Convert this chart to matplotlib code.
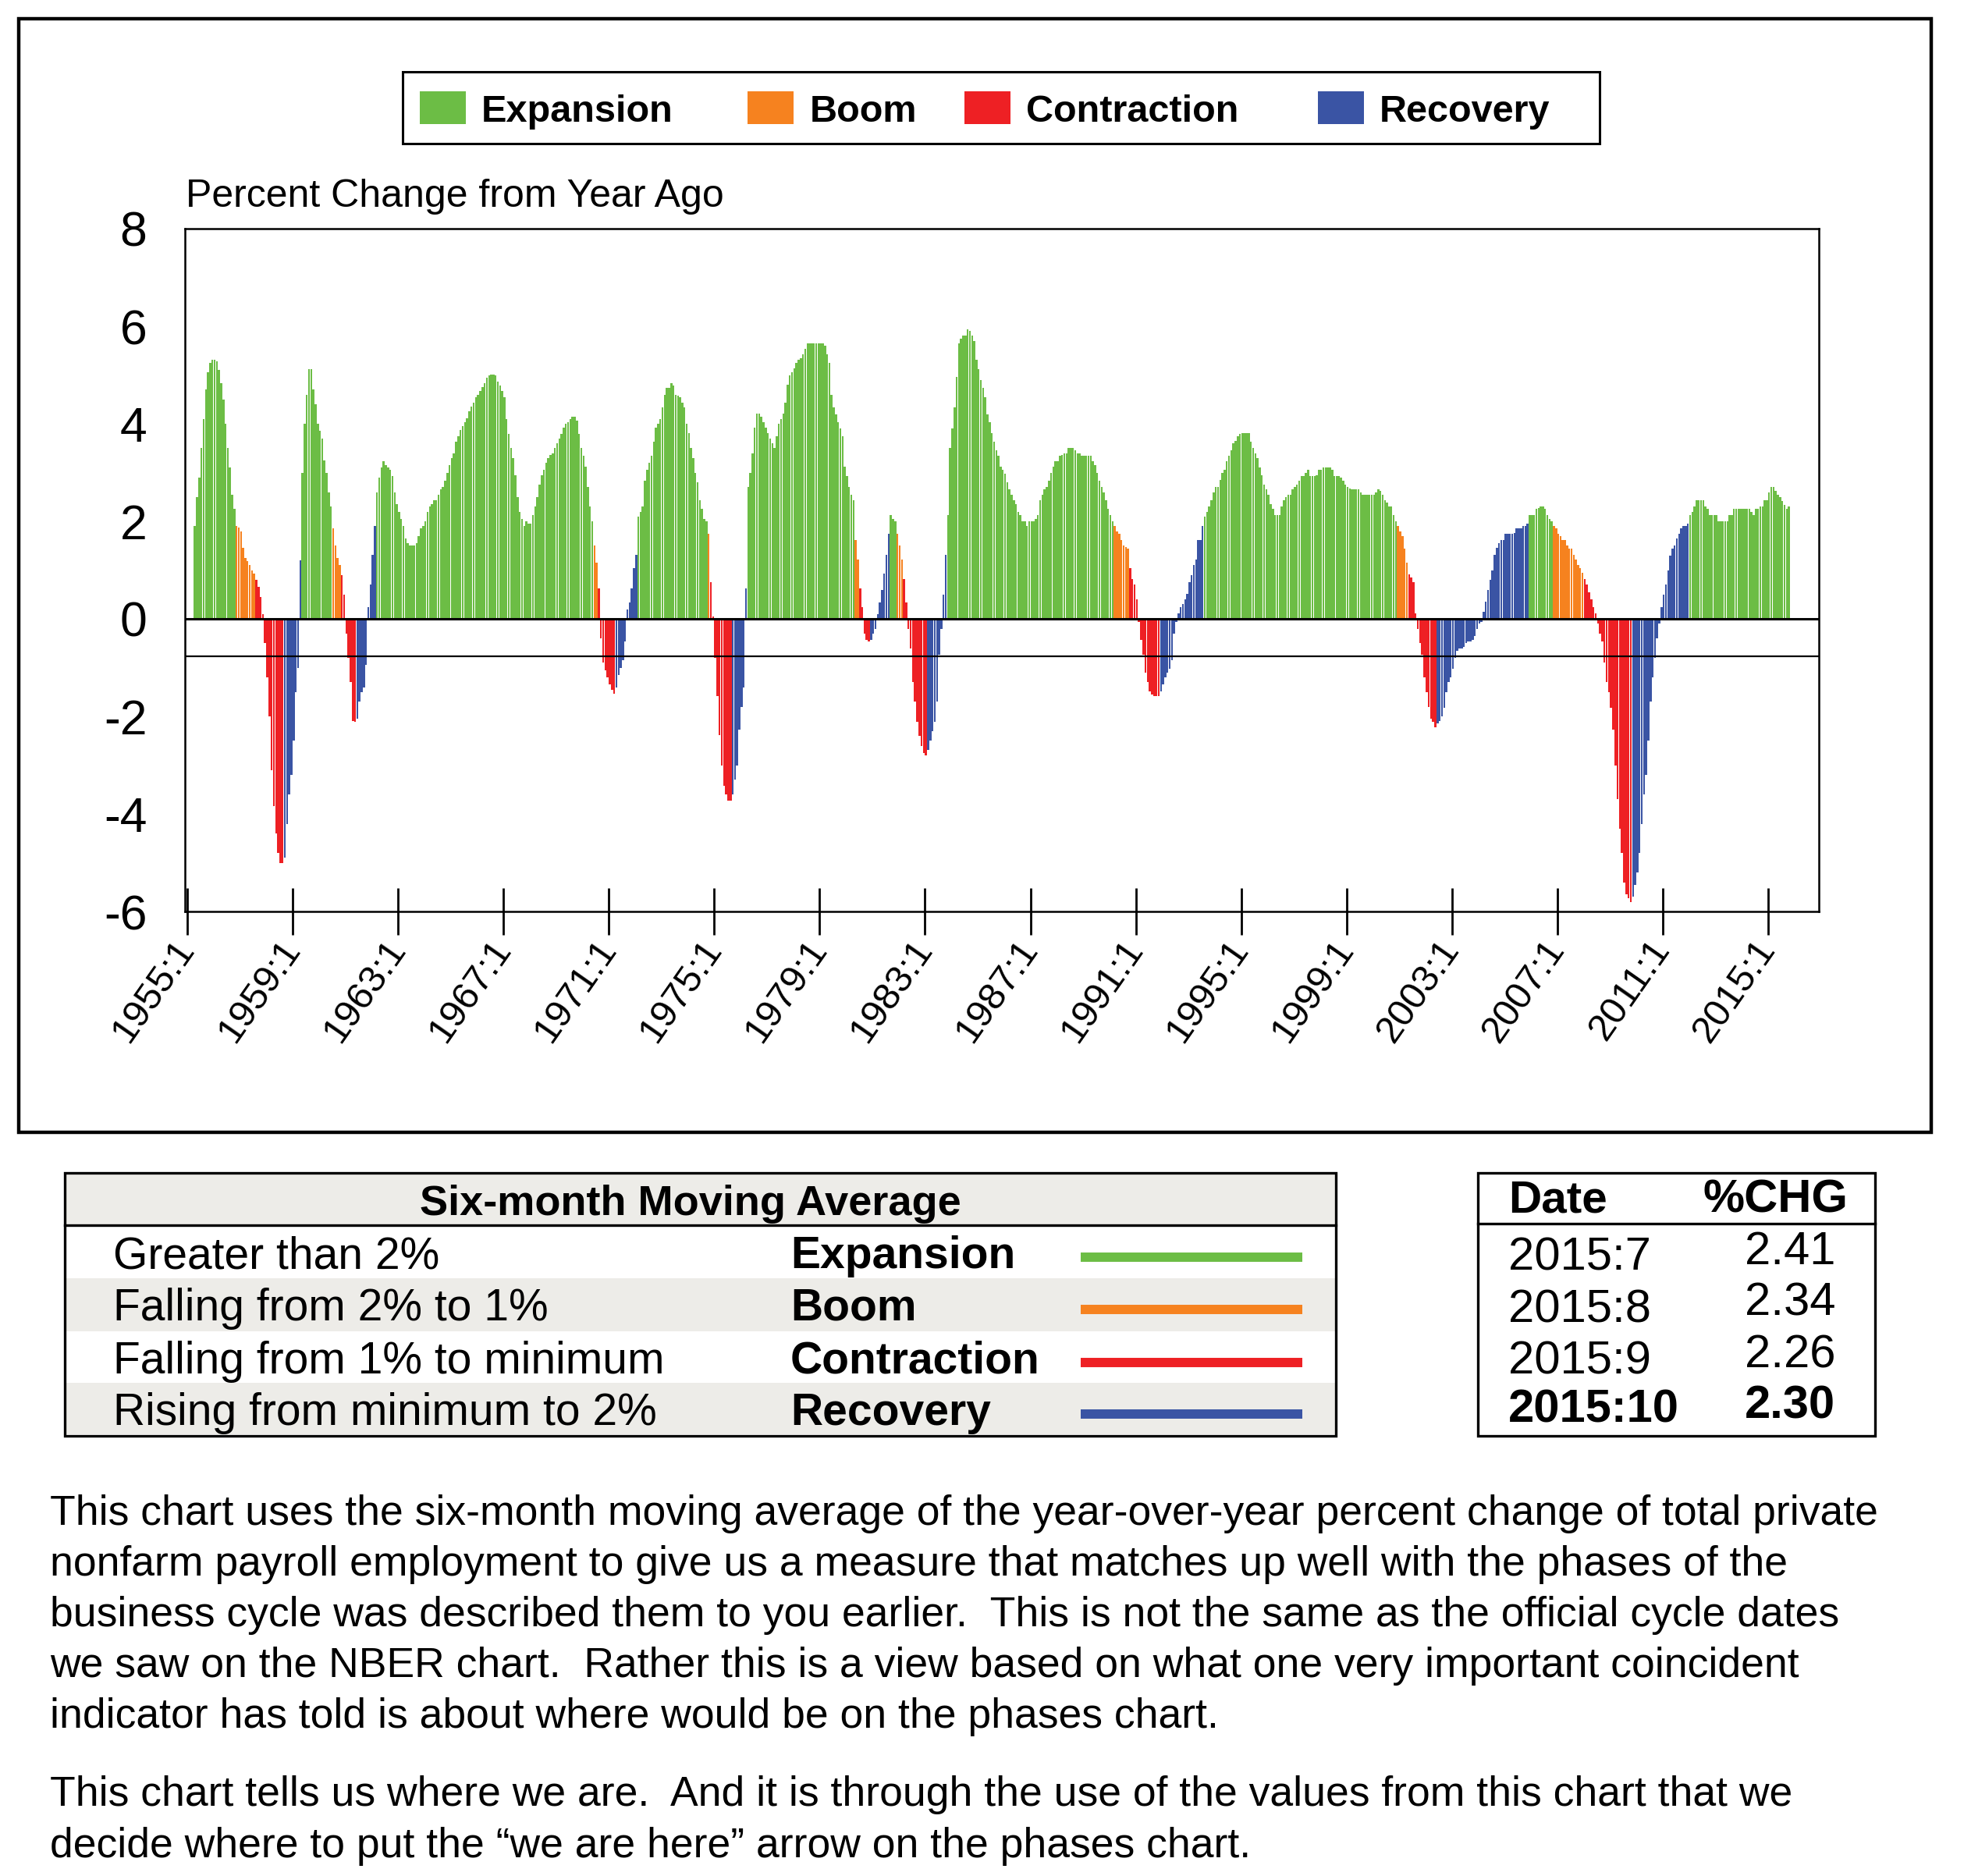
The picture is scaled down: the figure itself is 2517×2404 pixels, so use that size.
import matplotlib
matplotlib.use("Agg")
import matplotlib.pyplot as plt
from matplotlib.patches import Rectangle
from matplotlib.lines import Line2D
import numpy as np

plt.rcParams['font.family'] = ['Liberation Sans', 'DejaVu Sans']

# Six-month moving average of the y/y % change of private nonfarm payrolls.
# Monthly, first value is 1955:4, last is 2015:10.
first_month = 3  # months after 1955:1

pct_1955_59 = [
    1.9, 2.5, 2.9, 3.5, 4.1, 4.7, 5.05, 5.25, 5.31,                             # 1955 (Apr-Dec)
    5.31, 5.28, 5.1, 4.84, 4.5, 4.0, 3.5, 3.1, 2.55, 2.25, 1.9, 1.87,           # 1956
    1.8, 1.45, 1.25, 1.18, 1.1, 1.0, 0.93, 0.8, 0.65, 0.45, 0.1, -0.5,          # 1957
    -1.2, -2.0, -3.1, -3.84, -4.4, -4.8, -5.0, -5.0, -4.9, -4.2, -3.6, -3.2,    # 1958
    -2.5, -1.5, -1.0, 1.2, 3.0, 4.0, 4.6, 5.12, 5.12, 4.7, 4.4, 4.0,            # 1959
]
pct_1960s = [
    3.85, 3.7, 3.25, 3.0, 2.6, 2.3, 1.85, 1.5, 1.25, 1.1, 0.9, 0.5,
    -0.3, -0.8, -1.3, -2.1, -2.11, -2.05, -1.7, -1.5, -1.4, -0.95, 0.24, 0.7,
    1.32, 1.9, 2.6, 2.9, 3.1, 3.23, 3.15, 3.1, 3.05, 2.93, 2.6, 2.35,
    2.2, 2.05, 1.9, 1.65, 1.55, 1.5, 1.5, 1.5, 1.55, 1.7, 1.85, 1.9,
    2.0, 2.2, 2.3, 2.35, 2.43, 2.43, 2.55, 2.66, 2.7, 2.83, 3.0, 3.15,
    3.3, 3.4, 3.63, 3.75, 3.88, 3.95, 4.04, 4.12, 4.25, 4.35, 4.44, 4.55,
    4.6, 4.68, 4.75, 4.84, 4.95, 5.0, 5.01, 5.01, 5.0, 4.86, 4.78, 4.68,
    4.55, 4.1, 3.8, 3.5, 3.3, 2.95, 2.5, 2.2, 2.05, 1.9, 2.0, 1.95,
    1.95, 2.13, 2.31, 2.5, 2.75, 2.95, 3.05, 3.2, 3.3, 3.36, 3.4, 3.5,
    3.6, 3.7, 3.8, 3.92, 4.0, 4.04, 4.1, 4.15, 4.15, 4.06, 3.8, 3.5,
]
pct_1970s = [
    3.35, 3.12, 2.7, 2.3, 2.0, 1.5, 1.16, 0.63, -0.4, -0.9, -1.05, -1.2,
    -1.35, -1.45, -1.53, -1.4, -1.15, -1.0, -0.85, -0.47, 0.2, 0.34, 0.63, 1.04,
    1.32, 2.1, 2.2, 2.31, 2.83, 3.05, 3.2, 3.34, 3.63, 3.92, 4.0, 4.1,
    4.33, 4.6, 4.73, 4.73, 4.84, 4.78, 4.6, 4.58, 4.55, 4.44, 4.33, 4.0,
    3.81, 3.51, 3.3, 3.0, 2.8, 2.43, 2.25, 2.05, 2.0, 1.74, 0.75, 0.05,
    -0.8, -1.58, -2.39, -3.0, -3.42, -3.6, -3.72, -3.72, -3.6, -3.3, -3.0, -2.27,
    -1.8, -1.4, 0.63, 2.7, 3.0, 3.4, 3.92, 4.21, 4.21, 4.15, 4.04, 3.92,
    3.81, 3.7, 3.6, 3.51, 3.75, 4.0, 4.1, 4.21, 4.44, 4.8, 5.0, 5.05,
    5.14, 5.25, 5.31, 5.35, 5.42, 5.54, 5.65, 5.65, 5.65, 5.65, 5.65, 5.65,
    5.65, 5.65, 5.6, 5.42, 5.25, 4.6, 4.33, 4.2, 4.04, 3.9, 3.75, 3.12,
]
pct_1980s = [
    2.93, 2.7, 2.55, 2.43, 1.61, 1.21, 0.63, 0.24, -0.3, -0.43, -0.47, -0.43,
    -0.3, -0.2, 0.1, 0.34, 0.6, 0.93, 1.32, 1.74, 2.13, 2.05, 2.0, 1.74,
    1.5, 1.21, 0.82, 0.34, -0.2, -0.61, -1.3, -1.7, -2.11, -2.4, -2.6, -2.75,
    -2.8, -2.68, -2.5, -2.3, -2.11, -1.7, -0.73, -0.2, 0.5, 1.32, 2.13, 3.51,
    3.9, 4.33, 4.96, 5.65, 5.75, 5.81, 5.81, 5.94, 5.9, 5.81, 5.69, 5.31,
    5.12, 4.9, 4.73, 4.55, 4.2, 4.04, 3.81, 3.63, 3.45, 3.34, 3.12, 3.05,
    2.98, 2.8, 2.66, 2.54, 2.43, 2.35, 2.2, 2.13, 2.0, 2.0, 1.9, 2.0,
    2.0, 2.0, 2.05, 2.13, 2.43, 2.55, 2.66, 2.7, 2.83, 3.0, 3.12, 3.23,
    3.23, 3.34, 3.36, 3.40, 3.40, 3.51, 3.51, 3.51, 3.45, 3.40, 3.40, 3.34,
    3.34, 3.34, 3.34, 3.34, 3.23, 3.15, 3.0, 2.83, 2.7, 2.6, 2.43, 2.25,
]
pct_1990s = [
    2.13, 2.0, 1.9, 1.8, 1.74, 1.61, 1.5, 1.47, 1.44, 1.04, 0.82, 0.7,
    0.4, -0.06, -0.43, -0.73, -1.1, -1.3, -1.49, -1.55, -1.58, -1.58, -1.58, -1.49,
    -1.35, -1.2, -1.1, -1.03, -0.85, -0.3, -0.06, 0.12, 0.24, 0.3, 0.4, 0.52,
    0.75, 0.9, 1.1, 1.21, 1.61, 1.61, 1.9, 2.1, 2.2, 2.31, 2.43, 2.6,
    2.7, 2.7, 2.85, 3.0, 3.05, 3.23, 3.34, 3.45, 3.6, 3.65, 3.75, 3.8,
    3.81, 3.81, 3.81, 3.81, 3.63, 3.51, 3.4, 3.3, 3.1, 2.95, 2.75, 2.66,
    2.55, 2.35, 2.25, 2.13, 2.13, 2.13, 2.31, 2.43, 2.5, 2.54, 2.54, 2.66,
    2.71, 2.75, 2.83, 2.93, 2.93, 3.0, 3.05, 2.93, 2.93, 2.93, 2.95, 3.05,
    3.05, 3.1, 3.1, 3.1, 3.1, 3.05, 2.93, 2.93, 2.93, 2.9, 2.83, 2.75,
    2.71, 2.68, 2.66, 2.66, 2.66, 2.66, 2.6, 2.54, 2.54, 2.54, 2.54, 2.54,
]
pct_2000s = [
    2.54, 2.6, 2.66, 2.62, 2.54, 2.43, 2.38, 2.31, 2.31, 2.13, 2.0, 1.9,
    1.8, 1.7, 1.44, 1.16, 0.92, 0.85, 0.75, 0.12, -0.2, -0.5, -0.73, -1.2,
    -1.5, -1.8, -2.05, -2.11, -2.22, -2.15, -2.1, -2.0, -1.83, -1.5, -1.3, -1.2,
    -1.03, -0.8, -0.65, -0.61, -0.61, -0.57, -0.5, -0.47, -0.47, -0.43, -0.35, -0.2,
    -0.1, -0.06, 0.15, 0.35, 0.6, 0.8, 1.0, 1.32, 1.45, 1.55, 1.61, 1.61,
    1.74, 1.74, 1.74, 1.74, 1.76, 1.85, 1.85, 1.85, 1.9, 1.9, 1.95, 2.13,
    2.13, 2.13, 2.25, 2.28, 2.31, 2.31, 2.25, 2.13, 2.05, 2.0, 1.9, 1.85,
    1.74, 1.7, 1.61, 1.61, 1.5, 1.44, 1.44, 1.32, 1.21, 1.1, 1.04, 0.95,
    0.82, 0.7, 0.55, 0.4, 0.24, 0.12, -0.1, -0.3, -0.47, -0.9, -1.3, -1.5,
    -1.83, -2.27, -3.0, -3.7, -4.3, -4.8, -5.4, -5.65, -5.72, -5.8, -5.7, -5.45,
]
pct_2010s = [
    -5.2, -4.8, -4.2, -3.6, -3.2, -2.5, -1.7, -1.2, -0.8, -0.4, -0.1, 0.24,
    0.5, 0.7, 1.0, 1.3, 1.44, 1.5, 1.65, 1.74, 1.85, 1.9, 1.9, 1.95,
    2.13, 2.2, 2.31, 2.43, 2.43, 2.43, 2.43, 2.31, 2.25, 2.13, 2.13, 2.13,
    2.13, 2.0, 2.0, 2.0, 2.0, 2.0, 2.13, 2.13, 2.25, 2.25, 2.25, 2.25,
    2.25, 2.25, 2.25, 2.25, 2.2, 2.13, 2.25, 2.25, 2.31, 2.31, 2.43, 2.43,
    2.6, 2.7, 2.7, 2.62, 2.54, 2.5, 2.41, 2.34, 2.26, 2.30,                      # 2015 (Jan-Oct)
]

# phase of each month, as (phase, number of months) from 1955:4
phase_runs = [("E", 19), ("B", 9), ("C", 13), ("R", 8), ("E", 14), ("B", 4), ("C", 7), ("R", 9),
              ("E", 99), ("B", 2), ("C", 8), ("R", 10), ("E", 32), ("B", 1), ("C", 10), ("R", 7),
              ("E", 49), ("B", 2), ("C", 5), ("R", 9), ("E", 3), ("B", 3), ("C", 11), ("R", 9),
              ("E", 76), ("B", 7), ("C", 14), ("R", 20), ("E", 88), ("B", 5), ("C", 13), ("R", 42),
              ("E", 11), ("B", 14), ("C", 22), ("R", 26), ("E", 46)]

phase_names = ["Expansion", "Boom", "Contraction", "Recovery"]
phase_colors = {"E": "#6cbd45", "B": "#f6821f", "C": "#ee2024", "R": "#3a54a4"}

tick_months = [0, 48, 96, 144, 192, 240, 288, 336, 384, 432, 480, 528, 576, 624, 672, 720]
tick_labels = ["1955:1", "1959:1", "1963:1", "1967:1", "1971:1", "1975:1", "1979:1", "1983:1",
               "1987:1", "1991:1", "1995:1", "1999:1", "2003:1", "2007:1", "2011:1", "2015:1"]
y_ticks = [-6, -4, -2, 0, 2, 4, 6, 8]

rule_rows = ["Greater than 2%", "Falling from 2% to 1%", "Falling from 1% to minimum",
             "Rising from minimum to 2%"]
recent_dates = ["2015:7", "2015:8", "2015:9", "2015:10"]
recent_values = ["2.41", "2.34", "2.26", "2.30"]

para1 = ["This chart uses the six-month moving average of the year-over-year percent change of total private",
         "nonfarm payroll employment to give us a measure that matches up well with the phases of the",
         "business cycle was described them to you earlier.  This is not the same as the official cycle dates",
         "we saw on the NBER chart.  Rather this is a view based on what one very important coincident",
         "indicator has told is about where would be on the phases chart."]
para2 = ["This chart tells us where we are.  And it is through the use of the values from this chart that we",
         "decide where to put the \u201cwe are here\u201d arrow on the phases chart."]

W, H = 2517, 2404


def fx(x):
    return x / W


def fy(y):
    return 1 - y / H


values = pct_1955_59 + pct_1960s + pct_1970s + pct_1980s + pct_1990s + pct_2000s + pct_2010s
months = np.arange(first_month, first_month + len(values))
colors = []
for code, n in phase_runs:
    colors += [phase_colors[code]] * n

fig = plt.figure(figsize=(W / 100, H / 100), dpi=100)

# outer frame of the chart
fig.add_artist(Rectangle((fx(24), fy(1451)), fx(2475) - fx(24), fy(24) - fy(1451),
                         transform=fig.transFigure, fill=False, lw=3.2, ec="black"))

ax = fig.add_axes([fx(237), fy(1168), fx(2331) - fx(237), fy(293) - fy(1168)])
ax.bar(months, values, width=0.88, align="edge", color=colors, linewidth=0)
ax.axhline(0, color="black", lw=2.2)
ax.axhline(-0.77, color="black", lw=1.6)
ax.set_xlim(-1.07, 743.1)
ax.set_ylim(-6, 8)
for s in ax.spines.values():
    s.set_linewidth(1.8)

ax.set_xticks(tick_months)
ax.set_xticklabels(tick_labels, rotation=55, ha="right", va="center", rotation_mode="anchor",
                   family=["Liberation Sans Narrow", "Liberation Sans"], fontsize=35)
ax.tick_params(axis="x", direction="inout", length=43, width=2, pad=8)
ax.set_yticks(y_ticks)
ax.set_yticklabels([str(v) for v in y_ticks], fontsize=45)
ax.tick_params(axis="y", length=0, pad=35)

fig.text(fx(238), fy(252), "Percent Change from Year Ago", fontsize=36, va="center")

# legend box
fig.add_artist(Rectangle((fx(516), fy(184)), fx(2050) - fx(516), fy(92) - fy(184),
                         transform=fig.transFigure, fill=False, lw=2.2, ec="black"))
leg_patch_x = [538, 958, 1236, 1689]
leg_text_x = [617, 1038, 1315, 1768]
for name, code, px, tx in zip(phase_names, "EBCR", leg_patch_x, leg_text_x):
    fig.add_artist(Rectangle((fx(px), fy(159)), fx(59), fy(117) - fy(159),
                             transform=fig.transFigure, fc=phase_colors[code], lw=0))
    fig.text(fx(tx), fy(143), name, fontsize=35, fontweight="bold", va="center")

# six-month moving average rules table
t_left, t_right, t_top, t_bot = 83, 1712, 1503, 1840
fig.add_artist(Rectangle((fx(t_left), fy(1570)), fx(t_right) - fx(t_left), fy(t_top) - fy(1570),
                         transform=fig.transFigure, fc="#edece8", lw=0))
for r_top, r_bot in [(1638, 1706), (1772, 1838)]:
    fig.add_artist(Rectangle((fx(t_left), fy(r_bot)), fx(t_right) - fx(t_left), fy(r_top) - fy(r_bot),
                             transform=fig.transFigure, fc="#edece8", lw=0))
fig.add_artist(Rectangle((fx(t_left), fy(t_bot)), fx(t_right) - fx(t_left), fy(t_top) - fy(t_bot),
                         transform=fig.transFigure, fill=False, lw=2.4, ec="black"))
fig.add_artist(Line2D([fx(t_left), fx(t_right)], [fy(1570), fy(1570)], transform=fig.transFigure,
                      color="black", lw=2.4))
fig.text(fx(885), fy(1543), "Six-month Moving Average", fontsize=39, fontweight="bold",
         ha="center", va="center")
row_y = [1610, 1677, 1745, 1811]
for desc, name, code, y in zip(rule_rows, phase_names, "EBCR", row_y):
    fig.text(fx(145), fy(y), desc, fontsize=41, va="center")
    fig.text(fx(1013), fy(y), name, fontsize=41, fontweight="bold", va="center")
    fig.add_artist(Line2D([fx(1385), fx(1669)], [fy(y + 1), fy(y + 1)], transform=fig.transFigure,
                          color=phase_colors[code], lw=8.6, solid_capstyle="butt"))

# latest readings table
d_left, d_right = 1894, 2403
fig.add_artist(Rectangle((fx(d_left), fy(t_bot)), fx(d_right) - fx(d_left), fy(t_top) - fy(t_bot),
                         transform=fig.transFigure, fill=False, lw=2.4, ec="black"))
fig.add_artist(Line2D([fx(d_left), fx(d_right)], [fy(1568), fy(1568)], transform=fig.transFigure,
                      color="black", lw=2.4))
fig.text(fx(1933), fy(1538), "Date", fontsize=42, fontweight="bold", va="center")
fig.text(fx(2183), fy(1538), "%CHG", fontsize=43, fontweight="bold", va="center")
date_y = [1612, 1679, 1745, 1807]
val_y = [1604, 1670, 1737, 1802]
for i, (d, v) in enumerate(zip(recent_dates, recent_values)):
    w = "bold" if i == len(recent_dates) - 1 else "normal"
    fig.text(fx(1933), fy(date_y[i]), d, fontsize=43, fontweight=w, va="center")
    fig.text(fx(2236), fy(val_y[i]), v, fontsize=43, fontweight=w, va="center")

# notes under the chart
for i, line in enumerate(para1):
    fig.text(fx(64), fy(1940 + 65 * i), line, fontsize=38.5, va="center")
for i, line in enumerate(para2):
    fig.text(fx(64), fy(2300 + 66 * i), line, fontsize=38.5, va="center")

fig.savefig("out.png", dpi=100)
